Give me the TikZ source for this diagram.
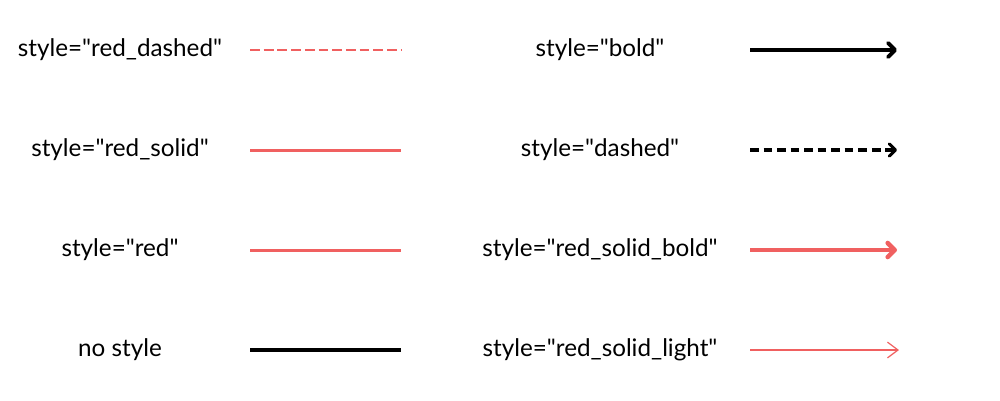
\documentclass[tikz,border=0pt]{standalone}
\usepackage{fontspec}
\setmainfont{Lato}
\usetikzlibrary{arrows.meta}
\definecolor{lred}{RGB}{240,96,96}
\newcommand{\q}{\textquotedbl}
\tikzset{
  lbl/.style={font=\fontsize{13.8}{16}\selectfont},
  rdashed/.style={draw=lred, line width=1.7pt, dash pattern=on 5.6pt off 2.2pt},
  rsolid/.style={draw=lred, line width=1.7pt},
  plain/.style={draw=black, line width=1.75pt},
  boldarr/.style={draw=black, line width=2.2pt, -{Straight Barb[round,length=4pt,width=8pt]}},
  dasharr/.style={draw=black, line width=1.75pt, dash pattern=on 5pt off 2.7pt, -{Straight Barb[round,length=3.5pt,width=7pt]}},
  rboldarr/.style={draw=lred, line width=2.6pt, -{Straight Barb[round,length=4pt,width=8pt]}},
  rlightarr/.style={draw=lred, line width=0.7pt, -{Straight Barb[length=6pt,width=9pt]}}
}
\begin{document}
\begin{tikzpicture}[x=0.02cm, y=-0.02cm]
            \useasboundingbox (0,0) rectangle (1000,400);
            % left column
            \node[lbl] (l1) at (120,50) {style=\q red\_dashed\q};
            \node[lbl] (l2) at (120,150) {style=\q red\_solid\q};
            \node[lbl] (l3) at (120,250) {style=\q red\q};
            \node[lbl] (l4) at (120,350) {no style};
            \coordinate (a1) at (250,50); \coordinate (b1) at (401,50);
            \coordinate (a2) at (250,150); \coordinate (b2) at (401,150);
            \coordinate (a3) at (250,250); \coordinate (b3) at (401,250);
            \coordinate (a4) at (250,350); \coordinate (b4) at (401,350);
            \draw[rdashed] (a1) -- (b1);
            \draw[rsolid] (a2) -- (b2);
            \draw[rsolid] (a3) -- (b3);
            \draw[plain] (a4) -- (b4);
            % right column
            \node[lbl] (r1) at (600,50) {style=\q bold\q};
            \node[lbl] (r2) at (600,150) {style=\q dashed\q};
            \node[lbl] (r3) at (600,250) {style=\q red\_solid\_bold\q};
            \node[lbl] (r4) at (600,350) {style=\q red\_solid\_light\q};
            \coordinate (c1) at (750,50); \coordinate (d1) at (897,50);
            \coordinate (c2) at (750,150); \coordinate (d2) at (897,150);
            \coordinate (c3) at (750,250); \coordinate (d3) at (897,250);
            \coordinate (c4) at (750,350); \coordinate (d4) at (899,350);
            \draw[boldarr] (c1) -- (d1);
            \draw[dasharr] (c2) -- (d2);
            \draw[rboldarr] (c3) -- (d3);
            \draw[rlightarr] (c4) -- (d4);
        \end{tikzpicture}
\end{document}
